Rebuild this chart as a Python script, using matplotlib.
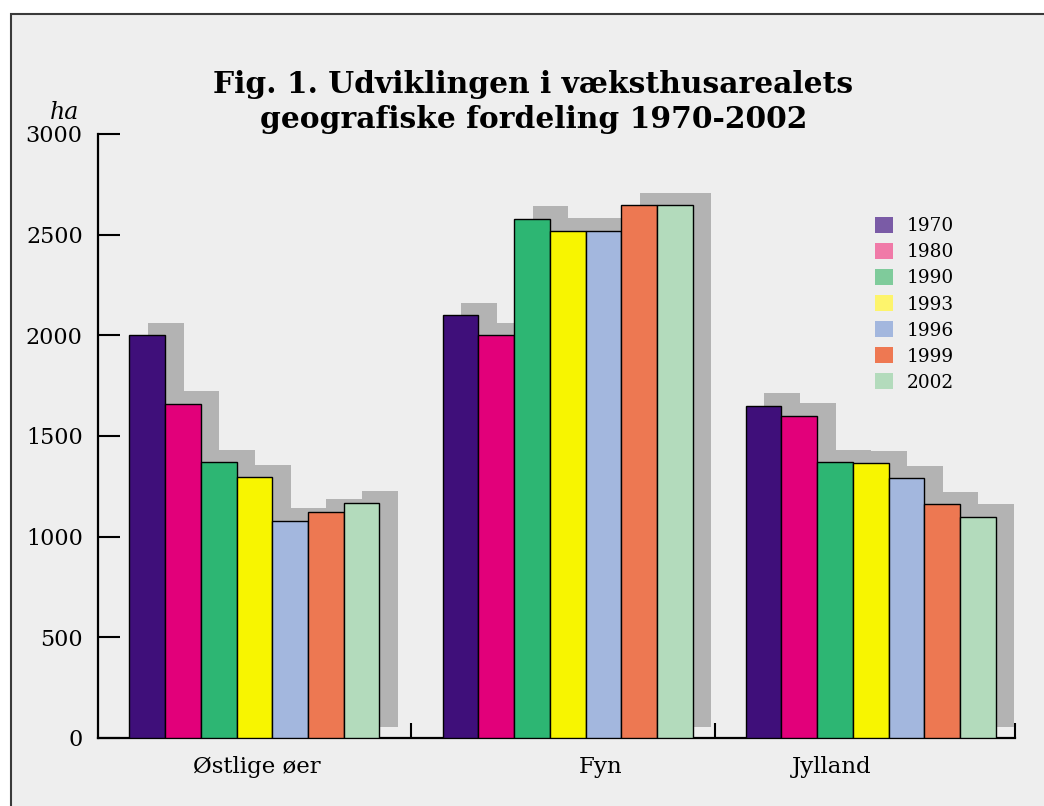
import matplotlib
matplotlib.use('Agg')
import matplotlib.pyplot as plt
from matplotlib.patches import Rectangle, Patch

plt.rcParams['font.family'] = ['DejaVu Serif']

# ---------------- data ----------------
regions = ['Østlige øer', 'Fyn', 'Jylland']
years = ['1970', '1980', '1990', '1993', '1996', '1999', '2002']
v1970 = [2000, 2100, 1650]
v1980 = [1660, 2000, 1600]
v1990 = [1370, 2580, 1370]
v1993 = [1295, 2520, 1365]
v1996 = [1080, 2520, 1290]
v1999 = [1125, 2645, 1160]
v2002 = [1165, 2645, 1100]
series = [v1970, v1980, v1990, v1993, v1996, v1999, v2002]
yticks = [0, 500, 1000, 1500, 2000, 2500, 3000]

bar_colors = ['#3f0f7a', '#e2007a', '#2db673', '#f8f500', '#a3b7de', '#ed7852', '#b3dbbc']
legend_colors = ['#7a5ba6', '#f07aa8', '#7fcb9b', '#fdf46c', '#a3b7de', '#ee7852', '#b3dbbc']
shadow_color = '#b3b3b3'

# ---------------- layout ----------------
W, H = 1044, 806
fig = plt.figure(figsize=(W / 100, H / 100), dpi=100)
fig.patch.set_facecolor('white')
frame = Rectangle((11 / W, -0.1), 1.2, (H - 14) / H + 0.1, transform=fig.transFigure,
                  facecolor='#eeeeee', edgecolor='#3a3a3a', lw=1.5, zorder=0)
fig.add_artist(frame)

ax = fig.add_axes([98 / W, (H - 738) / H, (1015 - 98) / W, (738 - 134) / H])
ax.set_facecolor('none')
ax.set_xlim(0, 3)
ax.set_ylim(0, 3000)
for s in ('top', 'right'):
    ax.spines[s].set_visible(False)
for s in ('left', 'bottom'):
    ax.spines[s].set_linewidth(1.6)
    ax.spines[s].set_color('black')

group_left = [0.103, 1.128, 2.119]
separators = [1.024, 2.018, 3.0]
label_x = [0.52, 1.645, 2.40]
bw = 0.1168
sh_dx = 0.0605
sh_dy = 62
sh_bottom = 55

for j, vals in enumerate(series):
    xs = [group_left[i] + j * bw for i in range(len(regions))]
    ax.bar([x + sh_dx for x in xs], [v + sh_dy - sh_bottom for v in vals], bottom=sh_bottom,
           width=bw, align='edge', color=shadow_color, lw=0, zorder=2)
for j, vals in enumerate(series):
    xs = [group_left[i] + j * bw for i in range(len(regions))]
    ax.bar(xs, vals, width=bw, align='edge', color=bar_colors[j],
           edgecolor='black', lw=1.0, zorder=3)

ax.set_yticks(yticks)
ax.set_yticklabels([str(t) for t in yticks])
ax.tick_params(axis='y', direction='in', length=16, width=1.5, labelsize=16, pad=11)
ax.set_xticks(separators)
ax.set_xticklabels([])
ax.tick_params(axis='x', direction='in', length=10.5, width=1.5)

for i, r in enumerate(regions):
    ax.text(label_x[i], -145, r, ha='center', va='center', fontsize=16.5, clip_on=False)

# y unit
fig.text(65 / W, 1 - 119 / H, 'ha', ha='center', va='baseline', fontsize=17, style='italic')

# title
fig.text(533 / W, 1 - 93 / H, 'Fig. 1. Udviklingen i væksthusarealets', ha='center',
         va='baseline', fontsize=21.4, fontweight='bold')
fig.text(534 / W, 1 - 128 / H, 'geografiske fordeling 1970-2002', ha='center',
         va='baseline', fontsize=21.4, fontweight='bold')

# legend
handles = [Patch(facecolor=c, edgecolor='none') for c in legend_colors]
leg = ax.legend(handles, years, loc='upper left', bbox_to_anchor=(875 / W, 1 - 217 / H),
                bbox_transform=fig.transFigure, frameon=False, fontsize=13.3,
                handlelength=0.95, handleheight=0.95, handletextpad=0.75,
                labelspacing=0.42, borderpad=0, borderaxespad=0)

fig.savefig('out.png', dpi=100, facecolor='white')
